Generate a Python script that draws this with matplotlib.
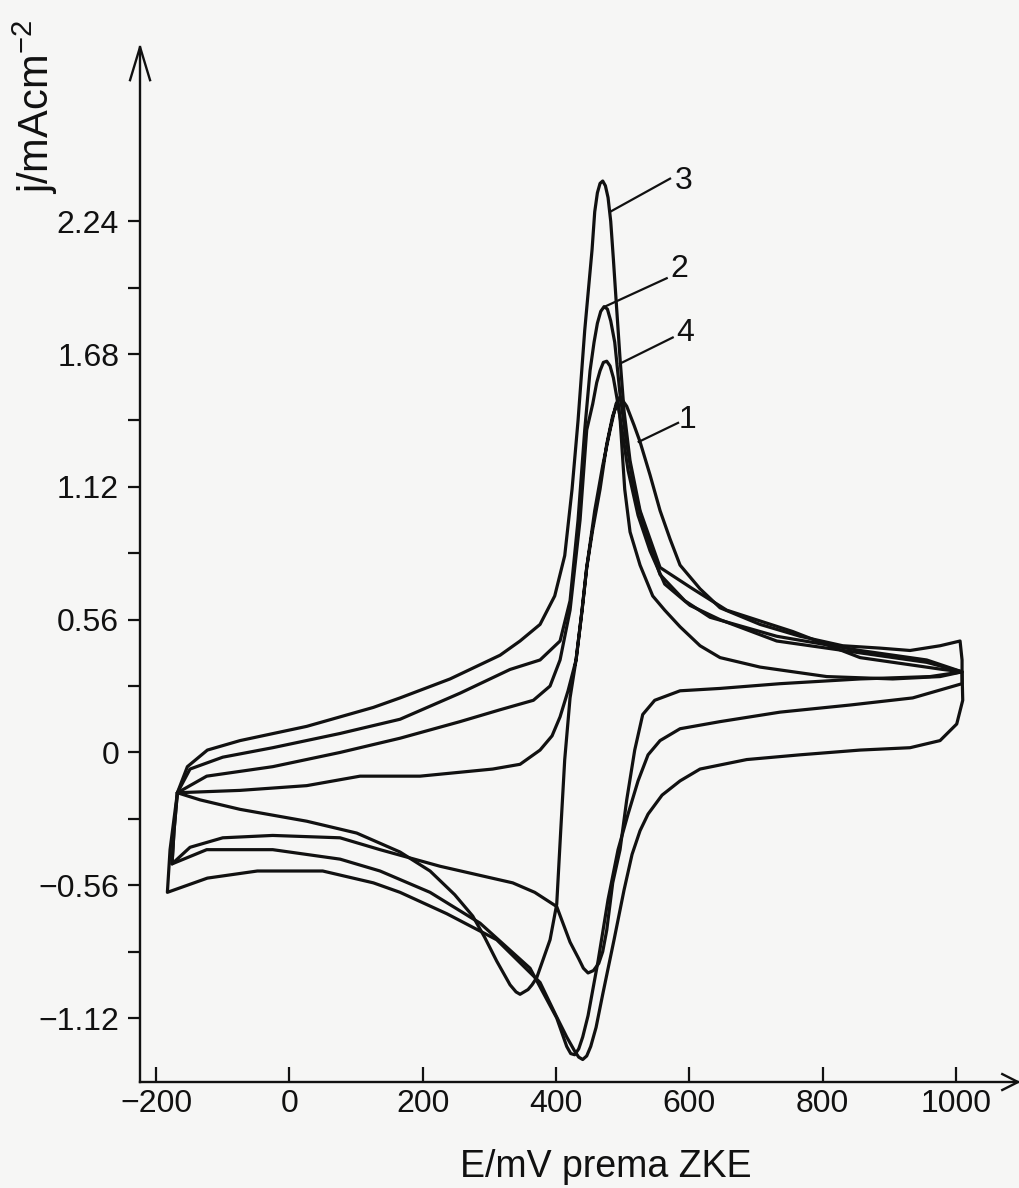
import numpy as np
import matplotlib
matplotlib.use("Agg")
import matplotlib.pyplot as plt

plt.rcParams['font.family'] = ['Liberation Sans', 'DejaVu Sans']
plt.rcParams['mathtext.fontset'] = 'custom'
plt.rcParams['mathtext.rm'] = 'Liberation Sans'
plt.rcParams['mathtext.it'] = 'Liberation Sans'
plt.rcParams['axes.unicode_minus'] = True

# ---- cyclic voltammograms: E / mV vs ZKE, j / mA cm^-2 ----
# anodic sweep runs left -> right, cathodic sweep right -> left

# curve 1
c1_anodic_E = [-168, -74, 26, 106, 196, 305, 346, 376, 394, 406, 418, 430, 439, 446, 458, 470,
               481, 490, 496, 506, 517, 526, 541, 556, 571, 586, 616, 646, 706, 766, 830, 886,
               931, 976, 1006]
c1_anodic_j = [-0.17, -0.16, -0.14, -0.10, -0.10, -0.07, -0.05, 0.01, 0.07, 0.15, 0.26, 0.39,
               0.60, 0.78, 1.02, 1.21, 1.36, 1.47, 1.50, 1.46, 1.38, 1.31, 1.17, 1.02, 0.90,
               0.79, 0.69, 0.61, 0.54, 0.49, 0.45, 0.44, 0.43, 0.45, 0.47]
c1_cathodic_E = [1009, 1009, 976, 905, 806, 706, 646, 616, 586, 563, 545, 526, 511, 503, 499,
                 496, 493, 485, 476, 466, 455, 446, 439, 430, 421, 413, 407, 401, 391, 371,
                 364, 358, 352, 346, 340, 331, 311, 293, 275, 248, 211, 166, 101, 26, -74,
                 -134, -168]
c1_cathodic_j = [0.39, 0.34, 0.32, 0.31, 0.32, 0.36, 0.40, 0.45, 0.53, 0.60, 0.66, 0.79, 0.93,
                 1.11, 1.28, 1.41, 1.48, 1.42, 1.30, 1.11, 0.94, 0.78, 0.60, 0.39, 0.23, -0.03,
                 -0.33, -0.64, -0.79, -0.95, -0.98, -1.00, -1.01, -1.02, -1.01, -0.98, -0.88,
                 -0.78, -0.69, -0.60, -0.50, -0.42, -0.34, -0.29, -0.24, -0.20, -0.17]

# curve 2
c2_anodic_E = [-168, -149, -100, -25, 76, 166, 256, 331, 376, 406, 421, 433, 443, 451, 457,
               462, 467, 472, 477, 482, 488, 492, 496, 505, 517, 533, 556, 593, 631, 731, 856,
               956, 1009]
c2_anodic_j = [-0.17, -0.07, -0.02, 0.02, 0.08, 0.14, 0.25, 0.35, 0.39, 0.47, 0.64, 0.98, 1.36,
               1.61, 1.73, 1.81, 1.86, 1.88, 1.87, 1.82, 1.73, 1.62, 1.51, 1.32, 1.11, 0.94,
               0.75, 0.64, 0.57, 0.49, 0.43, 0.39, 0.34]
c2_cathodic_E = [1009, 935, 841, 736, 646, 586, 556, 538, 523, 508, 493, 478, 463, 448, 440,
                 434, 428, 422, 416, 401, 361, 286, 211, 136, 76, -25, -124, -176, -173, -168]
c2_cathodic_j = [0.29, 0.23, 0.20, 0.17, 0.13, 0.10, 0.05, -0.01, -0.12, -0.26, -0.41, -0.62,
                 -0.88, -1.11, -1.20, -1.25, -1.275, -1.27, -1.24, -1.12, -0.91, -0.72, -0.59,
                 -0.50, -0.45, -0.41, -0.41, -0.47, -0.33, -0.17]

# curve 3
c3_anodic_E = [-168, -153, -123, -74, 26, 126, 166, 241, 316, 346, 376, 398, 413, 424, 433,
               443, 454, 458, 462, 466, 470, 474, 478, 482, 486, 490, 496, 502, 511, 526, 541,
               556, 605, 656, 755, 856, 980, 1009]
c3_anodic_j = [-0.17, -0.06, 0.01, 0.05, 0.11, 0.19, 0.23, 0.31, 0.41, 0.47, 0.54, 0.66, 0.83,
               1.11, 1.40, 1.78, 2.12, 2.28, 2.36, 2.40, 2.41, 2.39, 2.34, 2.24, 2.08, 1.91,
               1.66, 1.44, 1.23, 1.02, 0.90, 0.78, 0.69, 0.60, 0.51, 0.40, 0.35, 0.34]
c3_cathodic_E = [1010, 1001, 976, 931, 856, 766, 686, 616, 586, 559, 538, 526, 514, 502, 487,
                 470, 460, 452, 446, 440, 434, 428, 416, 400, 376, 311, 236, 166, 126, 50,
                 -48, -123, -183, -179, -168]
c3_cathodic_j = [0.22, 0.12, 0.05, 0.02, 0.01, -0.01, -0.03, -0.07, -0.12, -0.18, -0.26, -0.33,
                 -0.43, -0.58, -0.79, -1.02, -1.16, -1.24, -1.28, -1.295, -1.285, -1.26, -1.20,
                 -1.11, -0.97, -0.79, -0.68, -0.59, -0.55, -0.50, -0.50, -0.53, -0.59, -0.41,
                 -0.17]

# curve 4
c4_anodic_E = [-168, -124, -25, 76, 166, 256, 316, 366, 391, 406, 421, 436, 446, 455, 461,
               466, 471, 476, 481, 486, 491, 499, 508, 523, 541, 563, 601, 646, 731, 856, 956,
               1009]
c4_anodic_j = [-0.17, -0.10, -0.06, 0.00, 0.06, 0.13, 0.18, 0.22, 0.28, 0.39, 0.60, 0.98, 1.36,
               1.47, 1.56, 1.61, 1.645, 1.65, 1.63, 1.58, 1.50, 1.36, 1.19, 1.00, 0.85, 0.71,
               0.62, 0.56, 0.47, 0.42, 0.38, 0.34]
c4_cathodic_E = [961, 856, 736, 646, 586, 548, 530, 518, 506, 496, 485, 476, 470, 464, 456,
                 448, 441, 434, 421, 401, 368, 335, 226, 136, 76, -25, -100, -149, -176, -173,
                 -168]
c4_cathodic_j = [0.32, 0.31, 0.29, 0.27, 0.26, 0.22, 0.16, 0.01, -0.20, -0.41, -0.55, -0.75,
                 -0.84, -0.89, -0.92, -0.93, -0.91, -0.87, -0.80, -0.65, -0.59, -0.55, -0.48,
                 -0.41, -0.36, -0.35, -0.36, -0.40, -0.47, -0.33, -0.17]

curves = {
    "1": (c1_anodic_E + c1_cathodic_E, c1_anodic_j + c1_cathodic_j),
    "2": (c2_anodic_E + c2_cathodic_E, c2_anodic_j + c2_cathodic_j),
    "3": (c3_anodic_E + c3_cathodic_E, c3_anodic_j + c3_cathodic_j),
    "4": (c4_anodic_E + c4_cathodic_E, c4_anodic_j + c4_cathodic_j),
}

x_ticks = [-200, 0, 200, 400, 600, 800, 1000]
y_ticks = [-1.12, -0.56, 0.0, 0.56, 1.12, 1.68, 2.24]
y_minor = [-0.84, -0.28, 0.28, 0.84, 1.40, 1.96]
y_tick_labels = ["\u22121.12", "\u22120.56", "0", "0.56", "1.12", "1.68", "2.24"]
x_tick_labels = ["\u2212200", "0", "200", "400", "600", "800", "1000"]

# curve labels: point on the curve, end of the leader, centre of the number
curve_labels = {"3": ((481, 2.28), (571, 2.42), (591, 2.41)),
                "2": ((473, 1.88), (566, 2.00), (585, 2.04)),
                "4": ((496, 1.64), (575, 1.75), (593, 1.77)),
                "1": ((524, 1.31), (583, 1.39), (597, 1.40))}

ink = "#111111"
paper = "#f6f6f5"

fig = plt.figure(figsize=(10.2, 11.88), dpi=100, facecolor=paper)
ax = fig.add_axes([0.1373, 0.0892, 0.8608, 0.8712])
ax.set_facecolor(paper)
ax.set_xlim(-224, 1093)
ax.set_ylim(-1.390, 2.975)

for key, (E, j) in curves.items():
    ax.plot(E, j, color=ink, lw=2.3, solid_joinstyle='round', solid_capstyle='round')

for key, (pt, end, txt) in curve_labels.items():
    ax.plot([pt[0], end[0]], [pt[1], end[1]], color=ink, lw=1.6)
    ax.text(txt[0], txt[1], key, fontsize=23, color=ink, ha='center', va='center')

for s in ("top", "right"):
    ax.spines[s].set_visible(False)
for s in ("left", "bottom"):
    ax.spines[s].set_linewidth(1.7)
    ax.spines[s].set_color(ink)

ax.set_xticks(x_ticks)
ax.set_xticklabels(x_tick_labels)
ax.set_yticks(y_ticks)
ax.set_yticklabels(y_tick_labels)
ax.set_yticks(y_minor, minor=True)
ax.tick_params(axis='x', direction='in', length=11, width=1.6, pad=5,
               labelsize=23, colors=ink)
ax.tick_params(axis='y', which='both', direction='out', length=9, width=1.6, pad=6,
               labelsize=23, colors=ink)

# open arrowheads at the axis ends
ax.plot([-0.0114, 0, 0.0114], [0.968, 1.0, 0.968], transform=ax.transAxes,
        color=ink, lw=1.7, clip_on=False, solid_joinstyle='miter')
ax.plot([0.982, 1.0, 0.982], [0.0077, 0, -0.0077], transform=ax.transAxes,
        color=ink, lw=1.7, clip_on=False, solid_joinstyle='miter')

fig.text(35 / 1020, 1 - 107 / 1188, r"j/mAcm$^{-2}$", rotation=90, fontsize=30,
         ha='center', va='center', color=ink)
fig.text(606 / 1020, 1 - 1167 / 1188, "E/mV prema ZKE", fontsize=27,
         ha='center', va='center', color=ink)

fig.savefig("out.png", dpi=100, facecolor=paper)
